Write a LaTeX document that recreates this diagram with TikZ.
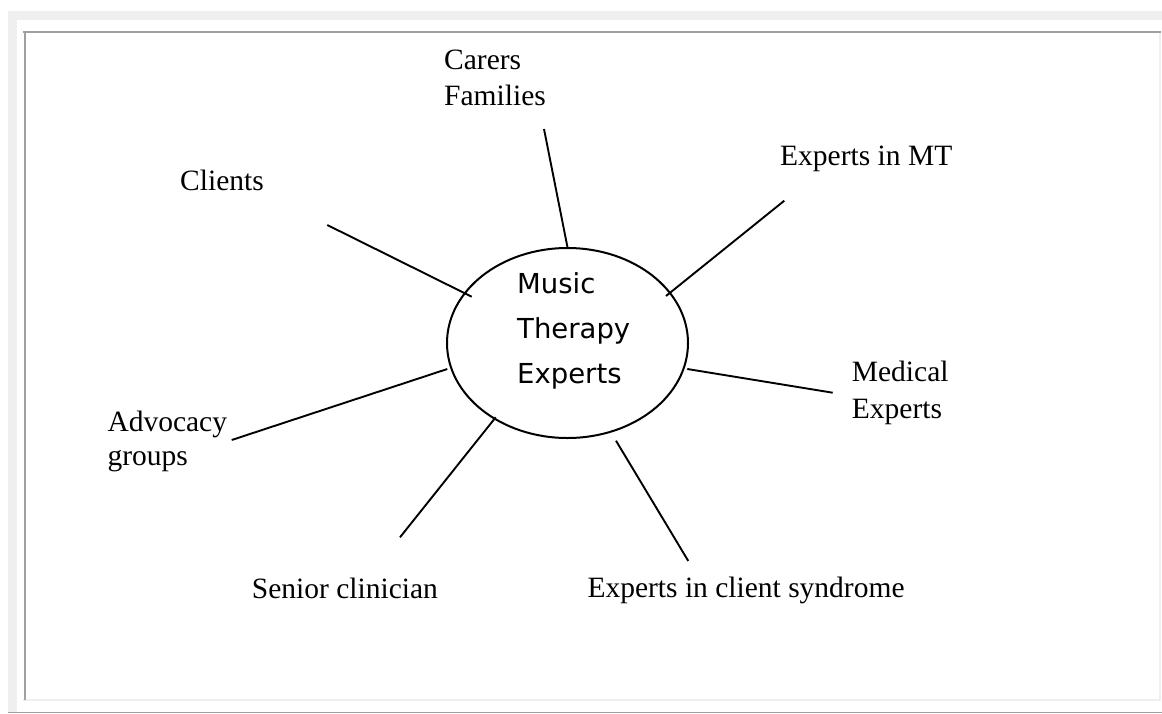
\documentclass[tikz,border=0pt]{standalone}
\usepackage{fontspec}
\setmainfont{Liberation Serif}
\newfontfamily\comicfont{DejaVu Sans}
\usetikzlibrary{shapes.geometric}
\definecolor{bandgray}{HTML}{EFEFEF}
\definecolor{framegray}{HTML}{A0A0A0}
\begin{document}
\begin{tikzpicture}[x=1pt,y=-1pt,
  lbl/.style={inner sep=0pt, anchor=base west, align=left, font=\fontsize{29.5}{36}\selectfont},
  spoke/.style={line width=1.9pt, black},
  hub/.style={draw, line width=2pt, ellipse, minimum width=241pt, minimum height=190pt, inner sep=0pt}]
\useasboundingbox (0,0) rectangle (1162,713);
\fill[white] (0,0) rectangle (1162,713);
% page bands and frame
\fill[bandgray] (8,11) rectangle (1162,20);
\fill[bandgray] (8,11) rectangle (17,712);
\fill[framegray] (8,711.5) rectangle (1162,713);
\fill[bandgray] (23,699) rectangle (1161,701);
\fill[bandgray] (1159,33) rectangle (1161,701);
\fill[framegray] (23,31) rectangle (1161,33);
\fill[framegray] (24,31) rectangle (26,700);
% hub (multi-line nodes are placed by the baseline of their last line)
\node[hub] (hub) at (567.5,343) {};
\node[inner sep=0pt, anchor=base west, align=left, font=\comicfont\fontsize{27.5}{45}\selectfont] (hubtext) at (517,383.3) {Music\\Therapy\\Experts};
% labels
\node[lbl] (carers) at (444,105.5) {Carers\\Families};
\node[lbl] (clients) at (180,190) {Clients};
\node[lbl] (mt) at (780,165) {Experts in MT};
\node[lbl, font=\fontsize{29.5}{36.6}\selectfont] (medical) at (851.7,418.3) {Medical\\Experts};
\node[lbl, font=\fontsize{29.5}{33.5}\selectfont] (advocacy) at (107.3,465) {Advocacy\\groups};
\node[lbl] (senior) at (251.7,598.3) {Senior clinician};
\node[lbl] (syndrome) at (587.3,597.5) {Experts in client syndrome};
% connector ends
\coordinate (carersA) at (544,129);   \coordinate (carersB) at (567.7,248.3);
\coordinate (clientsA) at (327.3,225); \coordinate (clientsB) at (471.7,296.7);
\coordinate (mtA) at (784.3,200.7);    \coordinate (mtB) at (666,296);
\coordinate (medA) at (832.7,392.7);   \coordinate (medB) at (687.3,369);
\coordinate (advA) at (231.7,440);     \coordinate (advB) at (447.3,369);
\coordinate (senA) at (400,537.3);     \coordinate (senB) at (495.7,417.3);
\coordinate (synA) at (688.3,561);     \coordinate (synB) at (616,440.7);
\draw[spoke] (carersA) -- (carersB);
\draw[spoke] (clientsA) -- (clientsB);
\draw[spoke] (mtA) -- (mtB);
\draw[spoke] (medA) -- (medB);
\draw[spoke] (advA) -- (advB);
\draw[spoke] (senA) -- (senB);
\draw[spoke] (synA) -- (synB);
\end{tikzpicture}
\end{document}
